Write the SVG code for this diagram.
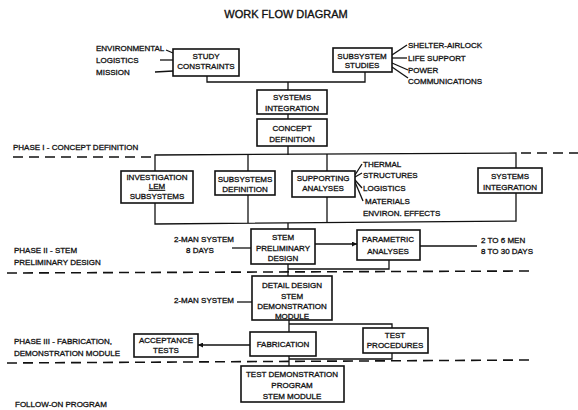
<svg xmlns="http://www.w3.org/2000/svg" width="578" height="410" viewBox="0 0 578 410">
<defs>
<style>
text{font-family:"Liberation Sans",Arial,sans-serif;font-size:8px;fill:#111;stroke:#111;stroke-width:0.3;}
.t{font-size:11px;stroke-width:0.35;}
.m{text-anchor:middle;}
.e{text-anchor:end;}
rect{fill:#fff;stroke:#111;stroke-width:1.6;}
.c line,.c polyline,.c path{stroke:#111;stroke-width:1.3;fill:none;}
.d{stroke:#111;stroke-width:1.6;stroke-dasharray:10 6;fill:none;}
</style>
<marker id="ah" viewBox="0 0 10 10" refX="10" refY="5" markerWidth="7" markerHeight="5" orient="auto" markerUnits="userSpaceOnUse">
<path d="M0,0 L10,5 L0,10 z" fill="#111"/>
</marker>
</defs>
<rect x="0" y="0" width="578" height="410" style="fill:#fff;stroke:none"/>
<text class="t m" x="286" y="18">WORK FLOW DIAGRAM</text>

<g id="phases">
<text x="13" y="150">PHASE I - CONCEPT DEFINITION</text>
<line class="d" x1="13" y1="157" x2="155" y2="157"/>
<line class="d" x1="521" y1="153" x2="578" y2="153"/>
<text x="14" y="253">PHASE II - STEM</text>
<text x="14" y="265">PRELIMINARY DESIGN</text>
<line class="d" x1="7" y1="273" x2="531" y2="271"/>
<text x="14" y="344">PHASE III - FABRICATION,</text>
<text x="14" y="356">DEMONSTRATION MODULE</text>
<line class="d" x1="7" y1="363" x2="531" y2="360"/>
<text x="15" y="407">FOLLOW-ON PROGRAM</text>
</g>

<g class="c" id="connectors">
<line x1="166" y1="50" x2="173" y2="53"/>
<line x1="160" y1="60" x2="173" y2="60"/>
<line x1="155" y1="72" x2="173" y2="71"/>
<line x1="392" y1="55" x2="407" y2="45"/>
<line x1="392" y1="58" x2="407" y2="58"/>
<line x1="392" y1="63" x2="408" y2="70"/>
<line x1="392" y1="67" x2="408" y2="78"/>
<polyline points="207,76 207,82 365,82 365,72"/>
<line x1="288" y1="82" x2="288" y2="90"/>
<line x1="288" y1="114" x2="288" y2="119"/>
<polyline points="155,171 155,155 516,153 516,168"/>
<line x1="288" y1="146" x2="288" y2="155"/>
<line x1="248" y1="155" x2="248" y2="171"/>
<line x1="327" y1="154" x2="327" y2="171"/>
<line x1="248" y1="195" x2="248" y2="223"/>
<polyline points="155,203 155,224 516,221 516,193"/>
<line x1="327" y1="197" x2="327" y2="223"/>
<line x1="355" y1="175" x2="362" y2="164"/>
<line x1="355" y1="177" x2="362" y2="173"/>
<line x1="355" y1="180" x2="362" y2="188"/>
<line x1="355" y1="182" x2="363" y2="201"/>
<line x1="288" y1="223" x2="288" y2="229"/>
<line x1="232" y1="248" x2="251" y2="248"/>
<line x1="315" y1="244" x2="357" y2="244" marker-end="url(#ah)"/>
<line x1="420" y1="246" x2="477" y2="246"/>
<polyline points="389,260 389,269 288,269"/>
<line x1="288" y1="264" x2="288" y2="276"/>
<line x1="237" y1="302" x2="252" y2="302"/>
<line x1="289" y1="320" x2="289" y2="332"/>
<polyline points="289,324 392,324 392,328"/>
<line x1="250" y1="345" x2="198" y2="345" marker-end="url(#ah)"/>
<polyline points="392,353 392,359 289,359"/>
<line x1="289" y1="356" x2="289" y2="366"/>
</g>

<g id="study-constraints">
<rect x="173" y="49" width="66" height="27"/>
<text class="m" x="206" y="59">STUDY</text>
<text class="m" x="206" y="69">CONSTRAINTS</text>
<text x="96" y="51">ENVIRONMENTAL</text>
<text x="96" y="63">LOGISTICS</text>
<text x="96" y="75">MISSION</text>
</g>

<g id="subsystem-studies">
<rect x="333" y="48" width="59" height="24"/>
<text class="m" x="362" y="59">SUBSYSTEM</text>
<text class="m" x="362" y="68">STUDIES</text>
<text x="408" y="48">SHELTER-AIRLOCK</text>
<text x="408" y="61">LIFE SUPPORT</text>
<text x="408" y="73">POWER</text>
<text x="408" y="84">COMMUNICATIONS</text>
</g>

<g id="systems-integration-1">
<rect x="257" y="90" width="70" height="24"/>
<text class="m" x="292" y="100">SYSTEMS</text>
<text class="m" x="292" y="111">INTEGRATION</text>
</g>

<g id="concept-definition">
<rect x="257" y="119" width="70" height="27"/>
<text class="m" x="292" y="131">CONCEPT</text>
<text class="m" x="292" y="142">DEFINITION</text>
</g>

<g id="investigation">
<rect x="121" y="171" width="72" height="32"/>
<text class="m" x="157" y="180">INVESTIGATION</text>
<text class="m" x="157" y="189" text-decoration="underline">LEM</text>
<text class="m" x="157" y="199">SUBSYSTEMS</text>
</g>

<g id="subsystems-definition">
<rect x="215" y="171" width="60" height="24"/>
<text class="m" x="245" y="182">SUBSYSTEMS</text>
<text class="m" x="245" y="192">DEFINITION</text>
</g>

<g id="supporting-analyses">
<rect x="292" y="171" width="63" height="26"/>
<text class="m" x="323" y="181">SUPPORTING</text>
<text class="m" x="323" y="191">ANALYSES</text>
<text x="363" y="167">THERMAL</text>
<text x="363" y="178">STRUCTURES</text>
<text x="363" y="191">LOGISTICS</text>
<text x="365" y="204">MATERIALS</text>
<text x="363" y="216">ENVIRON. EFFECTS</text>
</g>

<g id="systems-integration-2">
<rect x="478" y="168" width="64" height="25"/>
<text class="m" x="510" y="179">SYSTEMS</text>
<text class="m" x="510" y="190">INTEGRATION</text>
</g>

<g id="stem-preliminary">
<rect x="251" y="229" width="64" height="35"/>
<text class="m" x="283" y="240">STEM</text>
<text class="m" x="283" y="251">PRELIMINARY</text>
<text class="m" x="283" y="261">DESIGN</text>
<text class="e" x="234" y="242">2-MAN SYSTEM</text>
<text class="m" x="200" y="253">8 DAYS</text>
</g>

<g id="parametric">
<rect x="357" y="230" width="63" height="30"/>
<text class="m" x="388" y="242">PARAMETRIC</text>
<text class="m" x="388" y="254">ANALYSES</text>
<text x="481" y="243">2 TO 6 MEN</text>
<text x="481" y="254">8 TO 30 DAYS</text>
</g>

<g id="detail-design">
<rect x="252" y="276" width="80" height="44"/>
<text class="m" x="292" y="288">DETAIL DESIGN</text>
<text class="m" x="292" y="299">STEM</text>
<text class="m" x="292" y="309">DEMONSTRATION</text>
<text class="m" x="292" y="319">MODULE</text>
<text class="e" x="234" y="303">2-MAN SYSTEM</text>
</g>

<g id="fabrication">
<rect x="250" y="332" width="66" height="24"/>
<text class="m" x="283" y="347">FABRICATION</text>
</g>

<g id="acceptance-tests">
<rect x="134" y="334" width="64" height="23"/>
<text class="m" x="166" y="343">ACCEPTANCE</text>
<text class="m" x="166" y="353">TESTS</text>
</g>

<g id="test-procedures">
<rect x="363" y="328" width="65" height="25"/>
<text class="m" x="395" y="338">TEST</text>
<text class="m" x="395" y="348">PROCEDURES</text>
</g>

<g id="test-demonstration">
<rect x="241" y="366" width="103" height="36"/>
<text class="m" x="292" y="377">TEST DEMONSTRATION</text>
<text class="m" x="292" y="388">PROGRAM</text>
<text class="m" x="292" y="399">STEM MODULE</text>
</g>
</svg>
